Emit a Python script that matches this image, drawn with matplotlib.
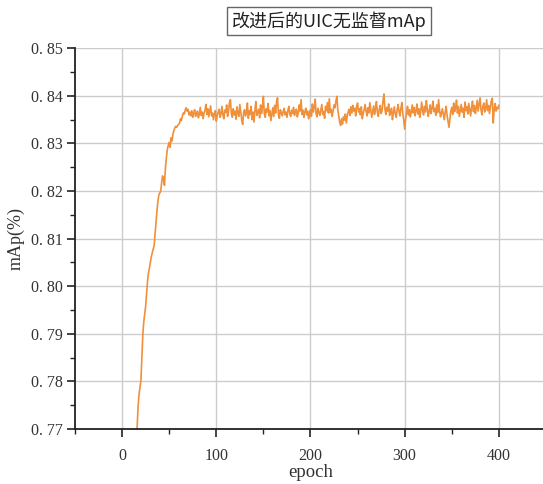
import matplotlib
matplotlib.use('Agg')
import matplotlib.pyplot as plt
from matplotlib.ticker import MultipleLocator, FuncFormatter
import numpy as np

# mAp per epoch, epochs 1..400
rise = [0.7330, 0.7360, 0.7385, 0.7412, 0.7440, 0.7468, 0.7495, 0.7520, 0.7548, 0.7575,
        0.7600, 0.7625, 0.7650, 0.7672, 0.7692,
        0.7705, 0.7748, 0.7772, 0.7788, 0.7802, 0.7850, 0.7898, 0.7925, 0.7942, 0.7958,
        0.7985, 0.8010, 0.8028, 0.8038,
        0.8050, 0.8062, 0.8070, 0.8078, 0.8085, 0.8110, 0.8135, 0.8158, 0.8178, 0.8192,
        0.8196, 0.8200, 0.8218, 0.8232, 0.8225, 0.8212,
        0.8248, 0.8270, 0.8287, 0.8296, 0.8302, 0.8292, 0.8312, 0.8305, 0.8320, 0.8327,
        0.8333, 0.8336, 0.8334, 0.8338, 0.8340, 0.8343, 0.8352, 0.8348, 0.8358, 0.8364,
        0.8362, 0.8370, 0.8375, 0.8368]

plateau = [
    0.8372, 0.8360, 0.8366, 0.8358, 0.8369, 0.8355, 0.8364, 0.8371, 0.8357, 0.8363,
    0.8368, 0.8354, 0.8362, 0.8376, 0.8359, 0.8366, 0.8352, 0.8364, 0.8370, 0.8382,
    0.8361, 0.8373, 0.8356, 0.8367, 0.8379, 0.8358, 0.8364, 0.8350, 0.8362, 0.8369,
    0.8347, 0.8358, 0.8366, 0.8372, 0.8355, 0.8363, 0.8378, 0.8360, 0.8352, 0.8370,
    0.8365, 0.8381, 0.8357, 0.8368, 0.8386, 0.8392, 0.8362, 0.8355, 0.8373, 0.8360,
    0.8368, 0.8351, 0.8377, 0.8363, 0.8357, 0.8382, 0.8366, 0.8349, 0.8340, 0.8365,
    0.8371, 0.8358, 0.8364, 0.8385, 0.8353, 0.8369, 0.8361, 0.8378, 0.8350, 0.8366,
    0.8345, 0.8370, 0.8388, 0.8359, 0.8364, 0.8372, 0.8354, 0.8381, 0.8363, 0.8376,
    0.8399, 0.8362, 0.8355, 0.8373, 0.8366, 0.8384, 0.8358, 0.8369, 0.8348, 0.8362,
    0.8375, 0.8357, 0.8380, 0.8364, 0.8388, 0.8396, 0.8361, 0.8353, 0.8371, 0.8365,
    0.8358, 0.8367, 0.8374, 0.8360, 0.8366, 0.8355, 0.8369, 0.8378, 0.8362, 0.8357,
    0.8370, 0.8363, 0.8376, 0.8359, 0.8367, 0.8372, 0.8356, 0.8364, 0.8381, 0.8368,
    0.8392, 0.8361, 0.8370, 0.8355, 0.8366, 0.8374, 0.8360, 0.8368, 0.8352, 0.8363,
    0.8371, 0.8357, 0.8383, 0.8366, 0.8376, 0.8393, 0.8362, 0.8356, 0.8374, 0.8365,
    0.8359, 0.8370, 0.8382, 0.8361, 0.8367, 0.8353, 0.8378, 0.8369, 0.8386, 0.8364,
    0.8394, 0.8365, 0.8372, 0.8357, 0.8368, 0.8381, 0.8375, 0.8389, 0.8399, 0.8370,
    0.8358, 0.8345, 0.8338, 0.8352, 0.8341, 0.8356, 0.8349, 0.8362, 0.8343, 0.8358,
    0.8366, 0.8372, 0.8359, 0.8377, 0.8364, 0.8380, 0.8368, 0.8374, 0.8358, 0.8379,
    0.8385, 0.8366, 0.8373, 0.8360, 0.8377, 0.8352, 0.8363, 0.8371, 0.8382, 0.8368,
    0.8358, 0.8375, 0.8364, 0.8386, 0.8370, 0.8355, 0.8367, 0.8379, 0.8361, 0.8373,
    0.8388, 0.8366, 0.8357, 0.8372, 0.8380, 0.8363, 0.8369, 0.8390, 0.8404, 0.8372,
    0.8361, 0.8376, 0.8368, 0.8383, 0.8359, 0.8366, 0.8374, 0.8350, 0.8365, 0.8377,
    0.8362, 0.8355, 0.8371, 0.8382, 0.8367, 0.8358, 0.8374, 0.8386, 0.8363, 0.8349,
    0.8330, 0.8352, 0.8366, 0.8378, 0.8360, 0.8371, 0.8356, 0.8367, 0.8381, 0.8364,
    0.8376, 0.8358, 0.8369, 0.8383, 0.8362, 0.8373, 0.8355, 0.8366, 0.8387, 0.8370,
    0.8360, 0.8378, 0.8366, 0.8390, 0.8372, 0.8357, 0.8368, 0.8381, 0.8363, 0.8375,
    0.8389, 0.8367, 0.8374, 0.8359, 0.8381, 0.8365, 0.8392, 0.8370, 0.8356, 0.8364,
    0.8373, 0.8361, 0.8350, 0.8366, 0.8378, 0.8359, 0.8347, 0.8334, 0.8352, 0.8368,
    0.8376, 0.8361, 0.8385, 0.8367, 0.8373, 0.8391, 0.8364, 0.8378, 0.8357, 0.8370,
    0.8382, 0.8366, 0.8374, 0.8355, 0.8387, 0.8369, 0.8377, 0.8362, 0.8384, 0.8371,
    0.8358, 0.8376, 0.8389, 0.8367, 0.8380, 0.8363, 0.8373, 0.8391, 0.8368, 0.8382,
    0.8396, 0.8371, 0.8360, 0.8378, 0.8385, 0.8366, 0.8374, 0.8392, 0.8369, 0.8380,
    0.8363, 0.8377, 0.8390, 0.8395, 0.8343, 0.8372, 0.8384, 0.8368, 0.8376, 0.8373,
    0.8380]

map_vals = np.array(rise + plateau)
epochs = np.arange(1, len(map_vals) + 1)

title = '改进后的UIC无监督mAp'
serif = 'Liberation Serif'

fig = plt.figure(figsize=(5.43, 4.84), dpi=100)
ax = fig.add_axes([0.1381, 0.1136, 0.8674, 0.7866])

ax.plot(epochs, map_vals, color='#F0903A', lw=1.2)

ax.set_xlim(-50, 450)
ax.set_ylim(0.77, 0.85)
ax.xaxis.set_major_locator(MultipleLocator(100))
ax.xaxis.set_minor_locator(MultipleLocator(50))
ax.yaxis.set_major_locator(MultipleLocator(0.01))
ax.yaxis.set_minor_locator(MultipleLocator(0.005))
ax.yaxis.set_major_formatter(FuncFormatter(lambda v, p: f'{v:.2f}'.replace('.', '. ')))

ax.grid(True, which='major', color='#cccccc', lw=1.0)
ax.set_axisbelow(True)
for s in ['top', 'right']:
    ax.spines[s].set_visible(False)
for s in ['left', 'bottom']:
    ax.spines[s].set_linewidth(1.3)
    ax.spines[s].set_color('#222222')

ax.tick_params(which='major', direction='out', length=6, width=1.2, color='#222222')
ax.tick_params(which='minor', direction='out', length=3.5, width=1.0, color='#222222')
ax.tick_params(axis='x', which='major', pad=8)
ax.tick_params(axis='y', which='major', pad=3)
for lab in ax.get_xticklabels() + ax.get_yticklabels():
    lab.set_fontfamily(serif)
    lab.set_fontsize(11.5)
    lab.set_color('#333333')

ax.set_xlabel('epoch', fontfamily=serif, fontsize=13.5, color='#333333', labelpad=0)
ax.set_ylabel('mAp(%)', fontfamily=serif, fontsize=13, color='#333333', labelpad=4)

fig.text(0.606, 0.957, title, ha='center', va='center', fontsize=13,
         family=['Noto Sans CJK SC', 'DejaVu Sans'], color='#222222',
         bbox=dict(boxstyle='square,pad=0.25', fc='white', ec='#666666', lw=1.0))

fig.savefig('out.png', dpi=100)
